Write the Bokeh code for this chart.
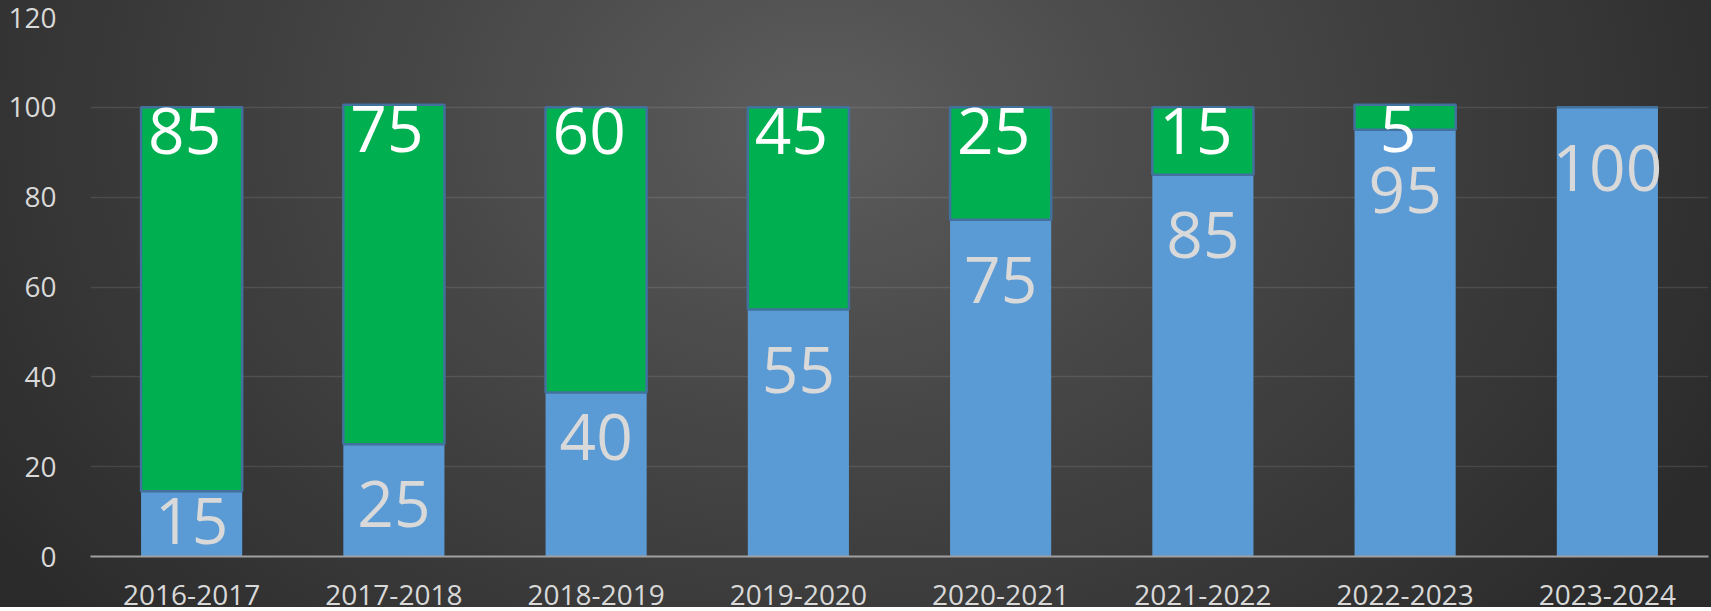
from bokeh.plotting import figure
from bokeh.models import ColumnDataSource, FactorRange, Range1d, FixedTicker
from bokeh.core.properties import value
from bokeh.embed import file_html
from bokeh.resources import INLINE

# ---- data ----
categories = ["2016-2017", "2017-2018", "2018-2019", "2019-2020",
              "2020-2021", "2021-2022", "2022-2023", "2023-2024"]
blue_values = [14.5, 25, 36.5, 55, 75, 85, 95, 100]          # drawn blue segment heights
green_values = [85.5, 75.6, 63.5, 45, 25, 15, 5.6, 0]        # drawn green segment heights
blue_labels = [15, 25, 40, 55, 75, 85, 95, 100]               # label texts on blue bars
green_labels = [85, 75, 60, 45, 25, 15, 5, None]              # label texts on green bars
y_ticks = [0, 20, 40, 60, 80, 100, 120]

BLUE = "#5b9bd5"
GREEN = "#00b050"
GREEN_EDGE = "#41719c"
FONT = "Open Sans"

green_tops = [b + g for b, g in zip(blue_values, green_values)]

bars = ColumnDataSource(dict(cat=categories, blue=blue_values,
                             gtop=green_tops, green=green_values))

gi = [i for i, g in enumerate(green_labels) if g is not None and green_values[i] > 0]
glab = ColumnDataSource(dict(cat=[categories[i] for i in gi],
                             y=[green_tops[i] for i in gi],
                             txt=[str(green_labels[i]) for i in gi]))

# blue labels: near the inside end of the bar, kept above the axis
blab = ColumnDataSource(dict(cat=categories,
                             y=[max(v - 13.4, 7.8) for v in blue_labels],
                             txt=[str(v) for v in blue_labels]))

p = figure(x_range=FactorRange(*categories, range_padding=0),
           y_range=Range1d(0, 120),
           frame_width=1618, frame_height=539,
           min_border_left=90, min_border_right=3, min_border_top=17, min_border_bottom=0,
           output_backend="svg", toolbar_location=None)

p.styles = {"background": "radial-gradient(ellipse 1000px 750px at 48% 20%, #5d5d5d 0%, #484848 38%, #2b2b2b 100%)"}
p.background_fill_alpha = 0
p.border_fill_alpha = 0
p.outline_line_color = None

p.vbar(x="cat", top="blue", bottom=0, width=0.5, source=bars,
       fill_color=BLUE, line_color=None)
p.vbar(x="cat", top="gtop", bottom="blue", width=0.5, source=bars,
       fill_color=GREEN, line_color=GREEN_EDGE, line_width=2.5)

p.text(x="cat", y="y", text="txt", source=blab,
       text_font=value(FONT), text_font_size="64px", text_color="#d9d9d9",
       text_align="center", text_baseline="alphabetic", y_offset=0)
p.text(x="cat", y="y", text="txt", source=glab,
       text_font=value(FONT), text_font_size="64px", text_color="#ffffff",
       text_align="center", text_baseline="alphabetic", y_offset=24, x_offset=-7)

p.xgrid.grid_line_color = None
p.ygrid.grid_line_color = "#ffffff"
p.ygrid.grid_line_alpha = 0.1
p.ygrid.grid_line_width = 1.5

p.yaxis.ticker = FixedTicker(ticks=y_ticks)
p.yaxis.axis_line_color = None
p.yaxis.major_tick_line_color = None
p.yaxis.minor_tick_line_color = None
p.yaxis.major_label_standoff = 28
p.yaxis.major_label_text_font = FONT
p.yaxis.major_label_text_font_size = "28px"
p.yaxis.major_label_text_color = "#d9d9d9"

p.xaxis.axis_line_color = "#a0a0a0"
p.xaxis.axis_line_width = 2
p.xaxis.major_tick_line_color = None
p.xaxis.minor_tick_line_color = None
p.xaxis.major_label_standoff = 22
p.xaxis.major_label_text_font = FONT
p.xaxis.major_label_text_font_size = "28px"
p.xaxis.major_label_text_color = "#d9d9d9"

open("out.html", "w").write(file_html(p, INLINE))
